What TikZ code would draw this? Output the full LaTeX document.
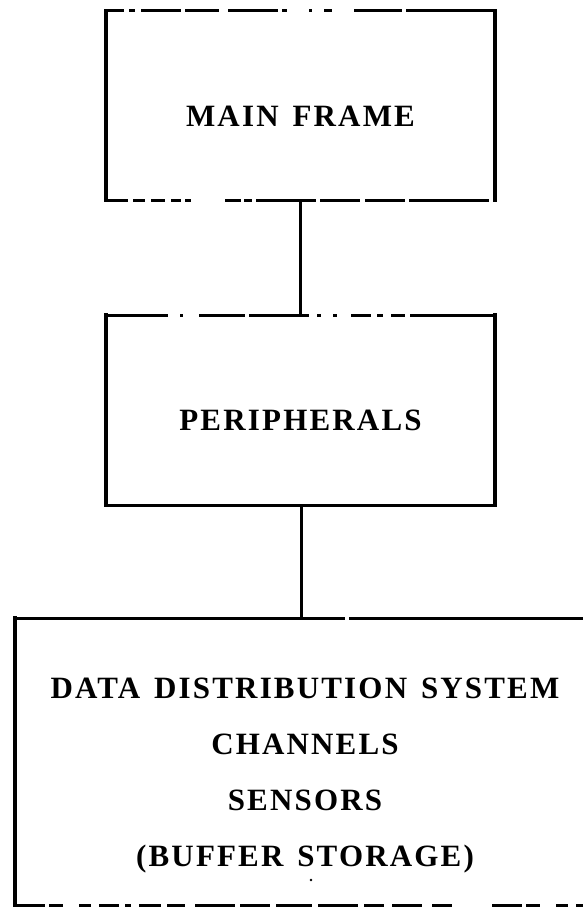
\documentclass[tikz,border=0pt]{standalone}
\usepackage{fontspec}
\newfontfamily\blockfont[LetterSpace=7,WordSpace=1.4]{Liberation Serif}
\begin{document}
\begin{tikzpicture}[x=1pt,y=-1pt]
\tikzset{
  boxarea/.style={rectangle, inner sep=0pt, outer sep=0pt},
  sideline/.style={line width=3.4pt, line cap=rect},
  topline/.style={line width=3pt},
  connector/.style={line width=3.4pt},
  blocktext/.style={font=\blockfont\bfseries\fontsize{31}{56}\selectfont, align=center, inner sep=0pt},
}
\useasboundingbox (0,0) rectangle (582,907);

% block areas
\node[boxarea, minimum width=389pt, minimum height=189pt] (main) at (300.5,105.5) {};
\node[boxarea, minimum width=389pt, minimum height=190pt] (peri) at (300.5,410) {};
\node[boxarea, minimum width=590pt, minimum height=287pt] (dds) at (310,761.5) {};

% labels
\node[blocktext] (maintext) at ([yshift=-11pt]main.center) {MAIN FRAME};
\node[blocktext] (peritext) at ([yshift=-10pt]peri.center) {PERIPHERALS};
\node[blocktext] (ddstext) at ([xshift=-5pt,yshift=-14pt]dds.center)
  {DATA DISTRIBUTION SYSTEM\\CHANNELS\\SENSORS\\(BUFFER STORAGE)};

% MAIN FRAME box: solid sides, broken top and bottom rules
\draw[sideline] (main.north west) -- (main.south west);
\draw[sideline] (main.north east) -- (main.south east);
\draw[topline, dash pattern=on 18pt off 5pt on 6pt off 6pt on 40pt off 4pt on 34pt off 9pt on 50pt off 4pt on 5pt off 22pt on 3pt off 12pt on 8pt off 22pt on 48pt off 4pt on 90pt]
  (main.north west) -- (main.north east);
\draw[topline, dash pattern=on 22pt off 5pt on 12pt off 6pt on 14pt off 6pt on 10pt off 4pt on 6pt off 34pt on 16pt off 3pt on 8pt off 4pt on 60pt off 4pt on 40pt off 5pt on 40pt off 4pt on 80pt]
  (main.south west) -- (main.south east);

% PERIPHERALS box
\draw[sideline] (peri.north west) -- (peri.south west);
\draw[sideline] (peri.north east) -- (peri.south east);
\draw[topline, dash pattern=on 62pt off 12pt on 3pt off 16pt on 46pt off 4pt on 60pt off 8pt on 4pt off 12pt on 4pt off 14pt on 20pt off 6pt on 6pt off 8pt on 14pt off 5pt on 90pt]
  (peri.north west) -- (peri.north east);
\draw[topline] (peri.south west) -- (peri.south east);

% DATA DISTRIBUTION SYSTEM box (right side runs past the page)
\draw[sideline] (dds.north west) -- (dds.south west);
\draw[topline, dash pattern=on 330pt off 4pt on 300pt] (dds.north west) -- (dds.north east);
\draw[topline, dash pattern=on 30pt off 4pt on 14pt off 16pt on 12pt off 8pt on 20pt off 6pt on 6pt off 8pt on 22pt off 6pt on 18pt off 10pt on 40pt off 5pt on 30pt off 6pt on 36pt off 6pt on 40pt off 6pt on 20pt off 8pt on 30pt off 10pt on 20pt off 40pt]
  (dds.south west) -- (dds.south east);

% stray dot under STORAGE
\fill (311,880) circle (1.4pt);

% connectors
\draw[connector] (main.south) -- (peri.north);
\draw[connector] ([xshift=1pt]peri.south) -- ([xshift=1pt]peri.south |- dds.north);
\end{tikzpicture}
\end{document}
